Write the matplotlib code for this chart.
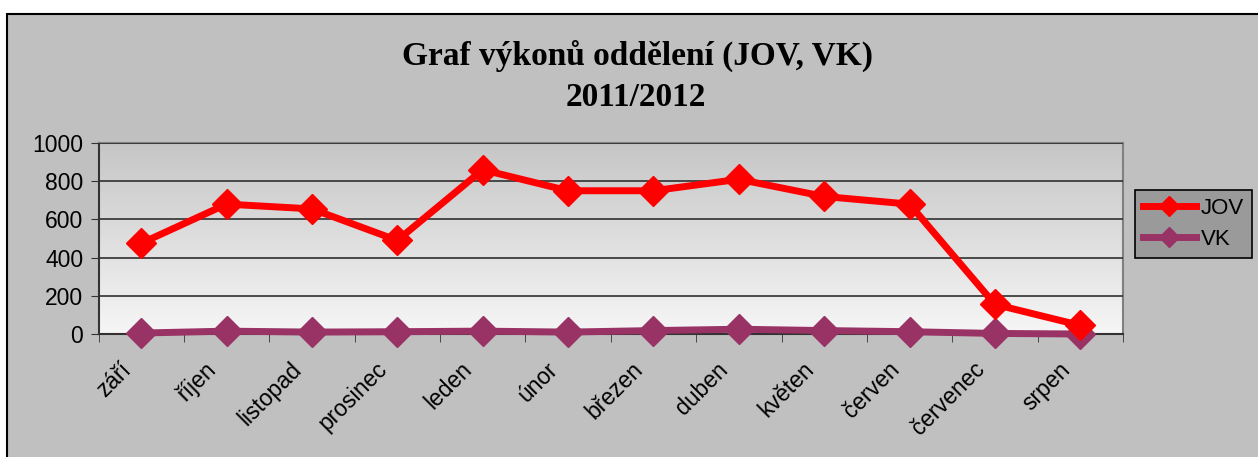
import matplotlib.pyplot as plt
import matplotlib.patches as patches
import matplotlib.transforms as mtrans
import numpy as np

months = ["září", "říjen", "listopad", "prosinec", "leden", "únor",
          "březen", "duben", "květen", "červen", "červenec", "srpen"]
jov = [475, 680, 655, 490, 860, 750, 750, 810, 720, 680, 155, 45]
vk = [5, 15, 10, 12, 15, 10, 18, 25, 18, 12, 3, 0]
yticks = [0, 200, 400, 600, 800, 1000]

fig = plt.figure(figsize=(12.58, 4.57), dpi=100)
fig.patch.set_facecolor("white")

# grey chart area with black frame (left / top)
frame = patches.Rectangle((7/1258, -0.1), 1.2, 1 - 14/457 + 0.1,
                          transform=fig.transFigure, facecolor="#C0C0C0",
                          edgecolor="black", linewidth=1.5, zorder=-10)
fig.patches.append(frame)

ax = fig.add_axes([98.5/1258, 1 - 334/457, 1024.5/1258, 191/457])
ax.set_facecolor("none")

# gradient background of plot area
grad = np.linspace(0, 1, 256).reshape(-1, 1)
ax.imshow(grad, extent=[0, 1, 0, 1], transform=ax.transAxes,
          cmap=plt.matplotlib.colors.LinearSegmentedColormap.from_list(
              "g", ["#C6C6C6", "#F6F6F6"]),
          aspect="auto", zorder=0, origin="upper")

x = np.arange(len(months))
ax.plot(x, jov, color="#FF0000", lw=5, marker="D", ms=15,
        label="JOV", zorder=5, clip_on=False)
ax.plot(x, vk, color="#993366", lw=5, marker="D", ms=15,
        label="VK", zorder=4, clip_on=False)

ax.set_xlim(-0.5, len(months) - 0.5)
ax.set_ylim(0, 1000)
ax.set_yticks(yticks)
ax.set_yticklabels([str(v) for v in yticks], fontsize=16.5, family="Liberation Sans")
ax.set_xticks(x)
ax.set_xticklabels(months, rotation=45, ha="right", va="center",
                   rotation_mode="anchor", fontsize=16.5, family="Liberation Sans")
ax.tick_params(axis="x", length=0, pad=0)
shift = mtrans.ScaledTranslation(-0.14, -0.32, fig.dpi_scale_trans)
for lab in ax.get_xticklabels():
    lab.set_transform(lab.get_transform() + shift)
ax.set_xticks(np.arange(-0.5, len(months)), minor=True)
ax.tick_params(axis="x", which="minor", length=6, direction="out", color="#333333")
ax.tick_params(axis="y", length=6, direction="out", color="#333333", pad=5)
ax.grid(axis="y", color="#303030", lw=1.2, zorder=1)
ax.set_axisbelow(False)
for s in ["left", "bottom"]:
    ax.spines[s].set_color("#333333")
    ax.spines[s].set_linewidth(1.5)
for s in ["right", "top"]:
    ax.spines[s].set_color("#808080")
    ax.spines[s].set_linewidth(1.5)

fig.text(637/1258, 1 - 56/457, "Graf výkonů oddělení (JOV, VK)",
         ha="center", va="center", fontsize=24, fontweight="bold",
         family="Liberation Serif")
fig.text(636/1258, 1 - 97/457, "2011/2012",
         ha="center", va="center", fontsize=24, fontweight="bold",
         family="Liberation Serif")

leg = fig.legend(loc="center left", bbox_to_anchor=(1135/1258, 1 - 224/457),
                 prop={"family": "Liberation Sans", "size": 16},
                 fancybox=False, framealpha=1, facecolor="#9A9A9A",
                 edgecolor="black", handlelength=2.4, borderpad=0.35,
                 labelspacing=0.45, handletextpad=0.22, borderaxespad=0)
leg.get_frame().set_linewidth(1.2)
for h in leg.legend_handles:
    h.set_markersize(10)

fig.savefig("out.png", dpi=100)
